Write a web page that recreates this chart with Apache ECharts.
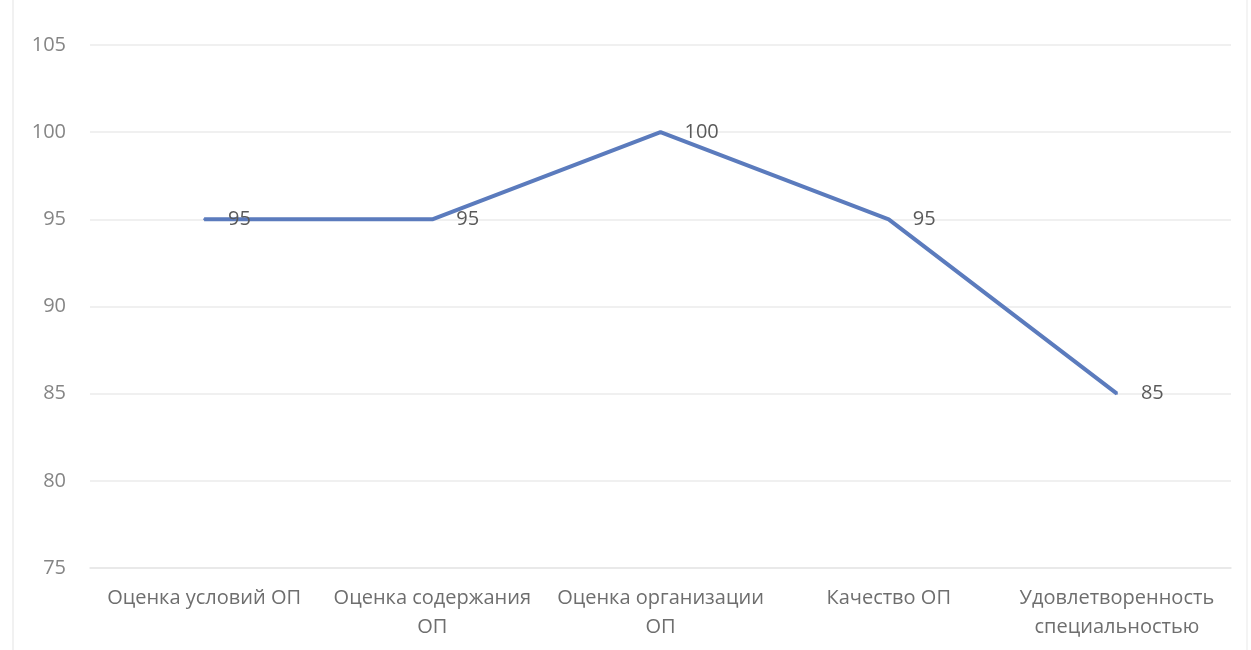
<!DOCTYPE html>
<html>
<head>
<meta charset="utf-8">
<script src="https://cdn.jsdelivr.net/npm/echarts@6/dist/echarts.min.js"></script>
<style>
  html, body { margin: 0; padding: 0; background: #fff; }
  #main { width: 1251px; height: 650px; }
</style>
</head>
<body>
<div id="main"></div>
<script>
// категории и значения
var categories = ['Оценка условий ОП', 'Оценка содержания\nОП', 'Оценка организации\nОП', 'Качество ОП', 'Удовлетворенность\nспециальностью'];
var values = [95, 95, 100, 95, 85];
var yMin = 75, yMax = 105, yStep = 5;

var chart = echarts.init(document.getElementById('main'));
var option = {
  backgroundColor: '#fff',
  animation: false,
  grid: { left: 90, right: 20, top: 45, bottom: 82 },
  graphic: [
    { type: 'line', shape: { x1: 13, y1: 0, x2: 13, y2: 650 }, style: { stroke: '#f1f1f1', lineWidth: 2 } },
    { type: 'line', shape: { x1: 1247, y1: 0, x2: 1247, y2: 650 }, style: { stroke: '#f4f4f4', lineWidth: 2 } }
  ],
  xAxis: {
    type: 'category',
    data: categories,
    boundaryGap: true,
    axisLine: { show: true, lineStyle: { color: '#e6e6e6', width: 1.5 } },
    axisTick: { show: false },
    axisLabel: {
      color: '#6e6e6e',
      fontFamily: 'Open Sans',
      fontSize: 20,
      lineHeight: 29,
      margin: 16,
      interval: 0
    }
  },
  yAxis: {
    type: 'value',
    min: yMin,
    max: yMax,
    interval: yStep,
    axisLine: { show: false },
    axisTick: { show: false },
    splitLine: { lineStyle: { color: '#ebebeb', width: 1.5 } },
    axisLabel: {
      color: '#858585',
      fontFamily: 'Open Sans',
      fontSize: 20,
      margin: 24
    }
  },
  series: [{
    type: 'line',
    data: values,
    symbol: 'circle',
    symbolSize: 2,
    itemStyle: { color: '#5b7bbd' },
    lineStyle: { color: '#5b7bbd', width: 4 },
    label: {
      show: true,
      position: 'right',
      distance: 23,
      color: '#5a5a5a',
      fontFamily: 'Open Sans',
      fontSize: 20
    }
  }]
};
chart.setOption(option);
</script>
</body>
</html>
